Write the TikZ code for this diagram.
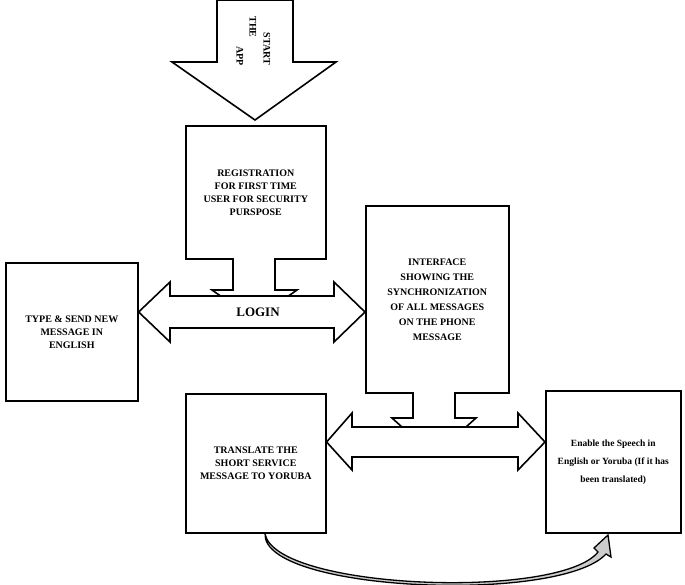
\documentclass[tikz,border=0pt]{standalone}
\usepackage{fontspec}
\setmainfont{Liberation Serif}
\usetikzlibrary{positioning,arrows.meta}
\tikzset{
  box/.style={draw, line width=1.6pt, anchor=north west, inner sep=0pt, align=center,
    font=\fontsize{10}{13}\selectfont\bfseries},
  blockarrow/.style={draw, line width=1.6pt, fill=white, line join=miter},
  lbl/.style={font=\fontsize{10}{12}\selectfont\bfseries, rotate=-90, anchor=west}
}
\begin{document}
\begin{tikzpicture}[x=1pt,y=-1pt]
  \useasboundingbox (0,0) rectangle (685,584);
  % Kaesten
  \node[box, minimum width=140pt, minimum height=133pt] (reg) at (185,125)
    {REGISTRATION\\FOR FIRST TIME\\USER FOR SECURITY\\PURSPOSE};
  \node[box, minimum width=132pt, minimum height=138pt] (type) at (5,262)
    {TYPE \& SEND NEW\\MESSAGE IN\\ENGLISH};
  \node[box, minimum width=143pt, minimum height=187pt, font=\fontsize{10}{15}\selectfont\bfseries] (iface) at (365,205)
    {INTERFACE\\SHOWING THE\\SYNCHRONIZATION\\OF ALL MESSAGES\\ON THE PHONE\\MESSAGE};
  \node[box, minimum width=140pt, minimum height=139pt] (trans) at (185,393)
    {TRANSLATE THE\\SHORT SERVICE\\MESSAGE TO YORUBA};
  \node[box, minimum width=135pt, minimum height=142pt, font=\fontsize{9.5}{18}\selectfont\bfseries] (speech) at (545,390)
    {Enable the Speech in\\English or Yoruba (If it has\\been translated)};
  % Start-Pfeil
  \draw[blockarrow] (217,0) -- (293,0) -- (293,62) -- (336,62) -- (255,120)
    -- (172,62) -- (217,62) -- cycle;
  \node[lbl] (start) at (267,29) {START};
  \node[lbl] (the) at (253,13) {THE};
  \node[lbl] (app) at (240,43) {APP};
  % Stummel oben
  \draw[blockarrow] (233,258) -- (233,290) -- (212,290) -- (222,297) -- (287,297)
    -- (297,290) -- (275,290) -- (275,258);
  % LOGIN-Doppelpfeil
  \draw[blockarrow] (type.east |- 0,312) -- (170,282) -- (170,296) -- (334,296)
    -- (334,282) -- (iface.west |- 0,312) -- (334,342) -- (334,328) -- (170,328)
    -- (170,342) -- cycle;
  \node[font=\fontsize{13}{15}\selectfont\bfseries] (login) at (258,312) {LOGIN};
  % Stummel unten
  \draw[blockarrow] (413,392) -- (413,418) -- (392,418) -- (402,427) -- (466,427)
    -- (476,418) -- (455,418) -- (455,392);
  % unterer Doppelpfeil
  \draw[blockarrow] (trans.east |- 0,442) -- (352,413) -- (352,427) -- (518,427)
    -- (518,413) -- (speech.west |- 0,442) -- (518,470) -- (518,457) -- (352,457)
    -- (352,470) -- cycle;
  % Bogen
  \coordinate (bs) at (trans.south -| 265,0);
  \coordinate (be) at (speech.south -| 608,0);
  \draw[line width=1.3pt, fill=black!20] (bs) .. controls (275,590) and (560,600) .. (598,552)
    -- (594,548) -- (608,535) -- (611,557) -- (606,554) .. controls (560,604) and (262,592) .. (bs);
\end{tikzpicture}
\end{document}
